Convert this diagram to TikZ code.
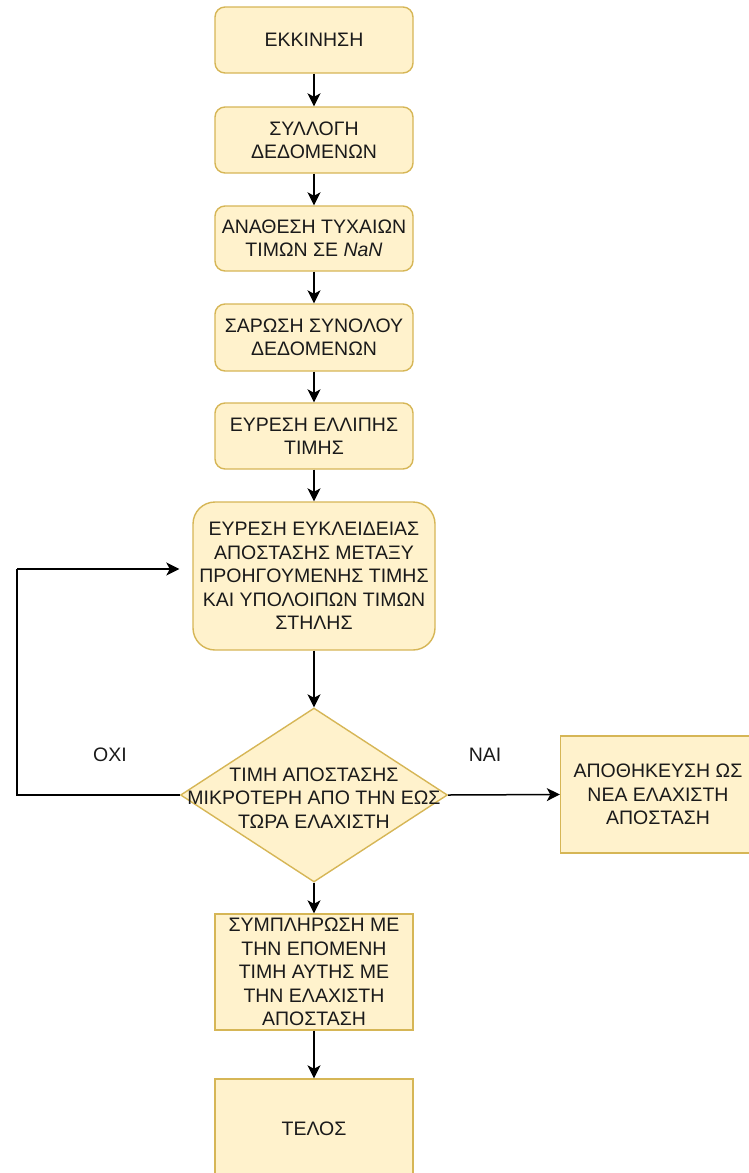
\documentclass[tikz,border=0pt]{standalone}
\usepackage{fontspec}
\setmainfont{Liberation Sans}
\usetikzlibrary{arrows.meta,shapes.geometric}
\definecolor{boxfill}{HTML}{FFF2CC}
\definecolor{boxline}{HTML}{D6B656}
\definecolor{inktext}{HTML}{1A1A1A}

\begin{document}
\begin{tikzpicture}[x=1pt,y=-1pt,
  txt/.style={font=\fontsize{19.5}{23.4}\selectfont, text=inktext, align=center, inner sep=0pt},
  base/.style={txt, draw=boxline, fill=boxfill, line width=1.4pt},
  roundbox/.style={base, rounded corners=10pt, minimum width=198pt},
  squarebox/.style={base, minimum width=198pt},
  decision/.style={diamond, draw=boxline, fill=boxfill, line width=1.4pt,
    inner sep=0pt, minimum width=267pt, minimum height=174pt},
  flow/.style={line width=1.5pt, -{Stealth[length=13pt, width=13pt, inset=3.5pt]}},
  plainline/.style={line width=1.5pt}
]
\useasboundingbox (0,0) rectangle (749,1173);

% main column of steps
\node[roundbox, minimum height=66pt] (start) at (314,40) {ΕΚΚΙΝΗΣΗ};
\node[roundbox, minimum height=66pt] (collect) at (314,140) {ΣΥΛΛΟΓΗ\\ΔΕΔΟΜΕΝΩΝ};
\node[roundbox, minimum height=65pt] (assign) at (314,238.5) {ΑΝΑΘΕΣΗ ΤΥΧΑΙΩΝ\\ΤΙΜΩΝ ΣΕ \textit{NaN}};
\node[roundbox, minimum height=67pt] (scan) at (314,337.5) {ΣΑΡΩΣΗ ΣΥΝΟΛΟΥ\\ΔΕΔΟΜΕΝΩΝ};
\node[roundbox, minimum height=66pt] (missing) at (314,436) {ΕΥΡΕΣΗ ΕΛΛΙΠΗΣ\\ΤΙΜΗΣ};
\node[base, rounded corners=22pt, minimum width=242pt, minimum height=148pt] (eucl) at (314,576)
  {ΕΥΡΕΣΗ ΕΥΚΛΕΙΔΕΙΑΣ\\ΑΠΟΣΤΑΣΗΣ ΜΕΤΑΞΥ\\ΠΡΟΗΓΟΥΜΕΝΗΣ ΤΙΜΗΣ\\ΚΑΙ ΥΠΟΛΟΙΠΩΝ ΤΙΜΩΝ\\ΣΤΗΛΗΣ};

% decision
\node[decision] (dec) at (314,795) {};
\node[txt] (dectext) at (314,798) {ΤΙΜΗ ΑΠΟΣΤΑΣΗΣ\\ΜΙΚΡΟΤΕΡΗ ΑΠΟ ΤΗΝ ΕΩΣ\\ΤΩΡΑ ΕΛΑΧΙΣΤΗ};

\node[squarebox, minimum width=195pt, minimum height=117pt] (save) at (658,794.5)
  {ΑΠΟΘΗΚΕΥΣΗ ΩΣ\\ΝΕΑ ΕΛΑΧΙΣΤΗ\\ΑΠΟΣΤΑΣΗ};

\node[squarebox, minimum height=116pt] (fill) at (314,972)
  {ΣΥΜΠΛΗΡΩΣΗ ΜΕ\\ΤΗΝ ΕΠΟΜΕΝΗ\\ΤΙΜΗ ΑΥΤΗΣ ΜΕ\\ΤΗΝ ΕΛΑΧΙΣΤΗ\\ΑΠΟΣΤΑΣΗ};
\node[squarebox, minimum height=99pt] (finish) at (314,1128.5) {ΤΕΛΟΣ};

% branch labels
\node[txt] (nolabel) at (110,755) {ΟΧΙ};
\node[txt] (yeslabel) at (485,755) {ΝΑΙ};

% connectors
\draw[flow] (start) -- (collect);
\draw[flow] (collect) -- (assign);
\draw[flow] (assign) -- (scan);
\draw[flow] (scan) -- (missing);
\draw[flow] (missing) -- (eucl);
\draw[flow] (eucl) -- (dec);
\draw[flow] (dec) -- (fill);
\draw[flow] (fill) -- (finish);
\draw[flow] (dec.east) -- (save.west);

\coordinate (loopbottom) at (17,795);
\coordinate (looptop) at (17,569);
\draw[plainline] (dec.west) -- (loopbottom) -- (looptop);
\draw[flow, shorten >=13pt] (looptop) -- (looptop -| eucl.west);
\end{tikzpicture}
\end{document}
